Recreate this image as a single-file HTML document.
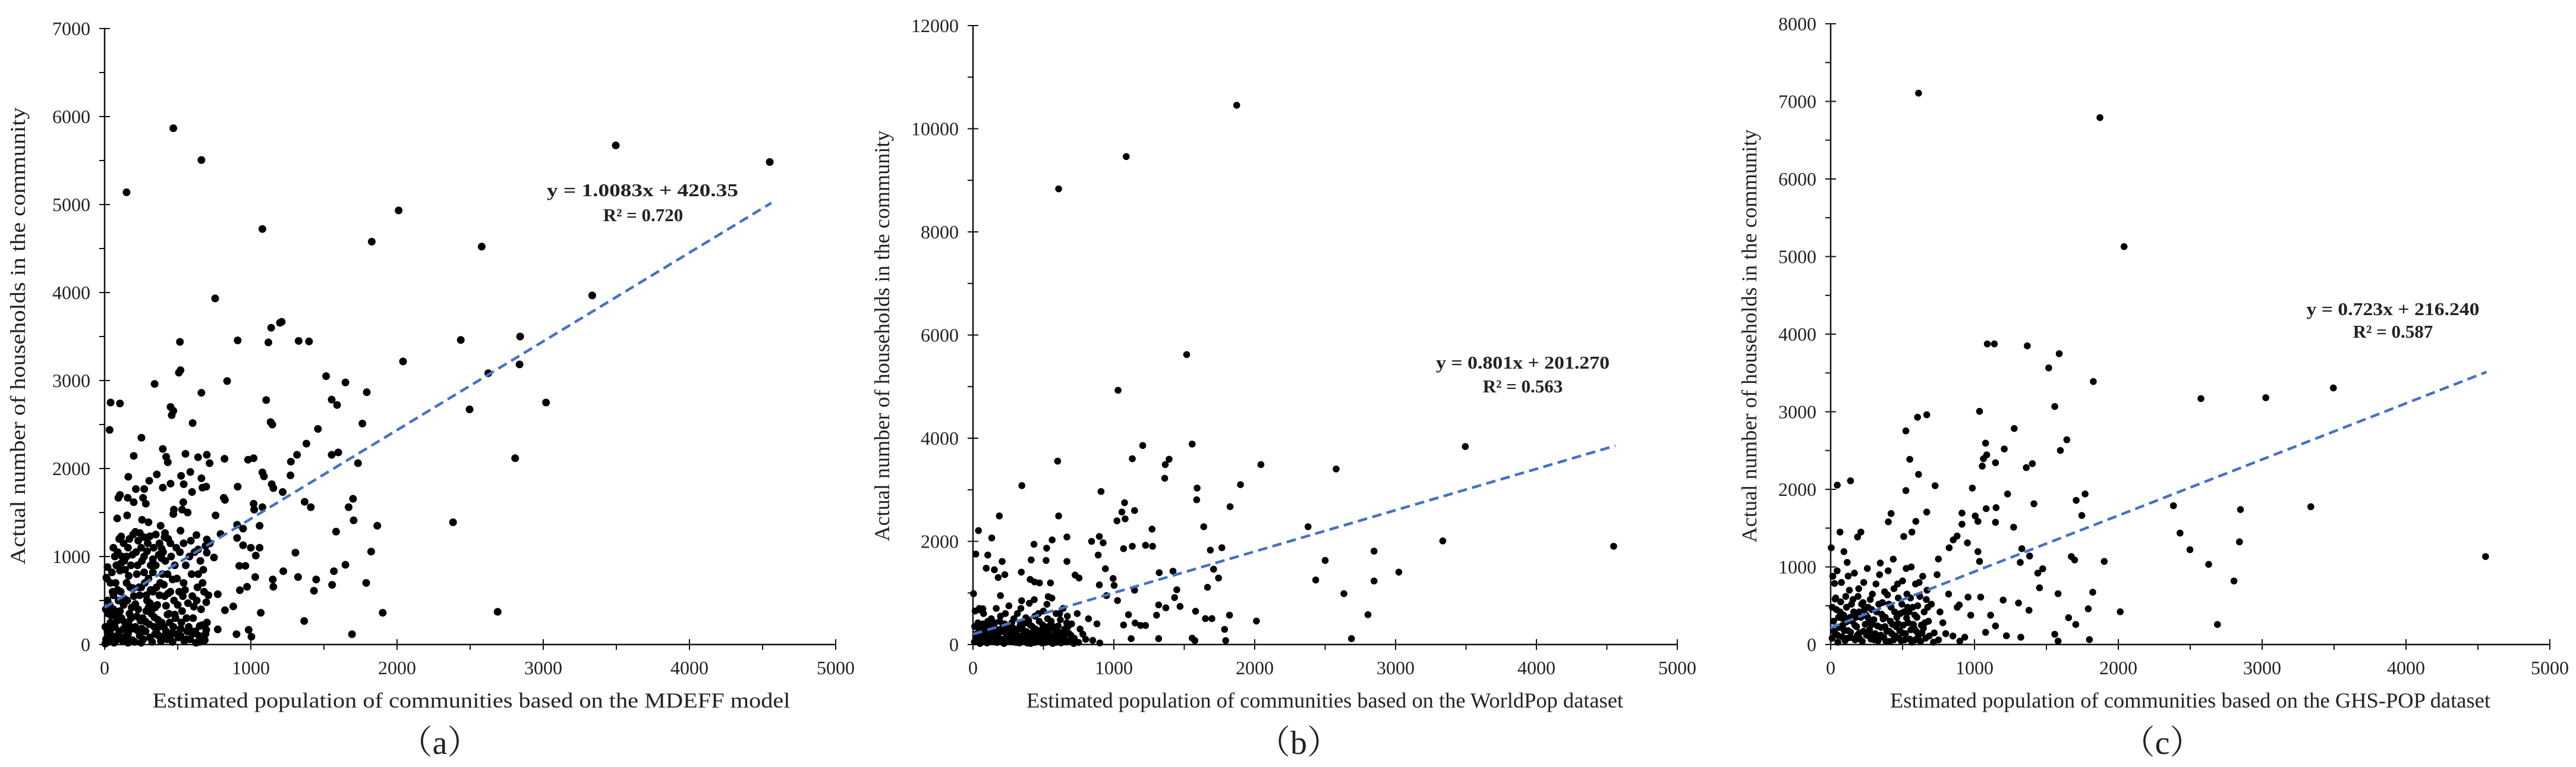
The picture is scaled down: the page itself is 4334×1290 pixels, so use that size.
<!DOCTYPE html>
<html><head><meta charset="utf-8"><style>
html,body{margin:0;padding:0;background:#fff;}
svg{display:block;}
text{font-family:"Liberation Serif","Noto Serif CJK SC",serif;fill:#222;}
</style></head><body>
<svg id="fig" width="4334" height="1290" viewBox="0 0 4334 1290" xmlns="http://www.w3.org/2000/svg"></svg>
<script>
// ---- Panel (a) data ----
const aXTicks = [0,1000,2000,3000,4000,5000];
const aYTicks = [0,1000,2000,3000,4000,5000,6000,7000];
const aFit = [1.0083, 420.35];
const aPoints = [[470,5867],[662,5506],[150,5139],[3496,5672],[4549,5483],[2011,4933],[1079,4722],[1827,4578],[2579,4522],[756,3933],[3335,3967],[910,3456],[515,3439],[1120,3433],[1139,3600],[1199,3656],[1211,3667],[1327,3450],[1398,3444],[2436,3461],[2842,3500],[2041,3217],[2838,3183],[2624,3083],[508,3089],[519,3117],[342,2961],[838,2994],[1515,3050],[1647,2978],[1793,2867],[662,2861],[1105,2778],[1553,2783],[1590,2722],[3019,2750],[41,2750],[105,2739],[451,2700],[470,2656],[459,2606],[2496,2672],[602,2517],[1135,2528],[1147,2500],[1763,2511],[34,2439],[1459,2450],[252,2350],[1380,2283],[398,2222],[2808,2117],[1553,2156],[1598,2183],[1316,2156],[421,2133],[432,2072],[199,2144],[553,2167],[639,2128],[699,2156],[718,2061],[820,2111],[981,2100],[1019,2117],[1274,2078],[1733,2061],[1079,1956],[1090,1911],[1271,1922],[162,1906],[305,1861],[357,1933],[523,1917],[586,1961],[662,1889],[1143,1822],[1154,1778],[541,1822],[451,1828],[398,1783],[669,1783],[695,1794],[910,1794],[598,1733],[1218,1733],[105,1700],[94,1667],[271,1767],[214,1767],[158,1667],[263,1667],[815,1667],[823,1644],[1699,1656],[199,1617],[282,1600],[538,1617],[1368,1622],[1019,1600],[1079,1561],[1410,1561],[1669,1561],[1023,1533],[474,1533],[530,1533],[568,1500],[470,1483],[154,1467],[86,1433],[256,1417],[759,1467],[1703,1411],[300,1389],[2383,1389],[906,1361],[1865,1350],[1060,1350],[383,1350],[519,1294],[947,1317],[1583,1283],[241,1267],[413,1267],[628,1244],[113,1228],[793,1256],[906,1211],[699,1194],[947,1128],[1000,1100],[1060,1100],[699,1044],[1305,1044],[1823,1056],[748,989],[1034,1011],[1647,906],[921,894],[963,894],[1568,833],[1222,833],[1030,767],[1323,767],[1150,739],[1447,739],[1789,700],[1154,656],[1556,678],[1432,611],[774,572],[925,617],[974,656],[823,389],[880,433],[1365,267],[1068,361],[1902,361],[2688,372],[1692,117],[902,117],[1004,89],[985,167],[774,172],[695,167],
[10,60],[20,150],[30,30],[40,250],[50,100],[60,400],[70,200],[80,50],[90,320],[100,150],[110,600],[120,80],[130,450],[140,250],[150,700],[160,120],[170,350],[180,900],[190,50],[200,550],[210,200],[220,800],[230,400],[240,100],[250,650],[260,300],[270,1000],[280,150],[290,500],[300,750],[310,80],[320,350],[330,600],[340,200],[350,900],[360,450],[370,100],[380,700],[390,250],[400,1050],[410,550],[420,150],[430,800],[440,350],[450,600],[470,200],[480,900],[500,450],[520,100],[540,700],[560,300],[580,1000],[600,550],[620,150],[640,800],[660,400],[680,600],[700,250],[720,1150],[60,1100],[80,900],[100,1200],[120,1000],[140,850],[160,1100],[40,700],[20,500],[15,750],[35,450],[55,600],[75,700],[95,500],[115,300],[135,950],[155,500],[175,650],[195,1250],[215,1050],[235,650],[255,950],[275,700],[295,1150],[315,900],[335,1100],[355,650],[375,1150],[395,800],[415,950],[435,1200],[455,1000],[475,500],[495,750],[515,1050],[535,550],[555,900],[575,200],[595,800],[615,1050],[635,650],[655,950],[675,850],[695,480],[25,350],[45,180],[65,20],[85,270],[105,380],[125,40],[145,160],[165,230],[185,420],[205,30],[225,160],[245,270],[265,60],[285,380],[305,230],[325,30],[345,120],[365,280],[385,40],[405,200],[425,60],[445,250],[465,30],[485,300],[505,80],[525,250],[545,40],[565,150],[585,60],[605,300],[625,20],[645,100],[665,220],[685,50],[5,10],[5,200],[8,400],[12,760],
[30,120],[45,330],[60,560],[75,90],[90,620],[105,840],[120,280],[135,520],[150,60],[165,780],[180,300],[195,640],[210,460],[225,900],[240,560],[255,180],[270,820],[285,560],[300,420],[315,620],[330,820],[345,420],[360,120],[375,560],[390,980],[405,680],[420,440],[435,580],[450,100],[465,740],[480,340],[495,120],[510,600],[530,380],[550,620],[570,470],[590,150],[610,430],[630,500],[650,210],[670,700],[690,120],[710,560],[20,880],[50,820],[70,1000],[90,1050],[110,920],[130,1150],[150,1000],[170,1200],[190,1020],[210,1280],[230,1180],[250,1100],[270,1220],[290,1060],[310,1230],[330,970],[350,1250],[370,1020],[390,1090],[410,1220],[450,1150],[490,1100],[540,1150],[590,1180],[640,1080],[690,1120],[40,40],[70,330],[100,80],[130,180],[160,20],[190,180],[220,320],[250,20],[280,260],[310,470],[340,310],[370,200],[400,90],[430,340],[460,130],[520,180],[560,60],[600,120],[650,30]];

// ---- Panel (b) data ----
const bXTicks = [0,1000,2000,3000,4000,5000];
const bYTicks = [0,2000,4000,6000,8000,10000,12000];
const bFit = [0.801, 201.27];
const bPoints = [[1872,10455],[1088,9460],[608,8834],[1517,5621],[1030,4929],[3495,3839],[1556,3886],[1205,3858],[601,3555],[1131,3602],[1392,3592],[1365,3488],[2044,3488],[2578,3403],[1361,3223],[347,3081],[1899,3100],[1591,3033],[909,2967],[1588,2806],[1825,2673],[1076,2749],[1147,2597],[1057,2569],[1080,2436],[1022,2398],[608,2493],[187,2493],[1271,2237],[1638,2284],[2379,2284],[39,2209],[20,1754],[105,1735],[133,2066],[667,2085],[562,2028],[433,1943],[842,2000],[924,1972],[897,2095],[3335,2009],[1225,1924],[1275,1905],[1131,1905],[4548,1905],[1767,1877],[1069,1858],[1685,1829],[2847,1810],[523,1867],[889,1735],[413,1640],[207,1611],[519,1630],[667,1611],[2500,1630],[940,1469],[94,1479],[152,1450],[343,1403],[725,1346],[3023,1403],[1708,1460],[1322,1393],[1420,1422],[226,1355],[753,1289],[1743,1289],[995,1280],[179,1299],[406,1261],[2433,1251],[2847,1232],[437,1213],[472,1194],[550,1194],[897,1156],[1665,1109],[1002,1147],[1447,1062],[1147,1052],[2633,986],[4,986],[948,948],[195,948],[534,929],[1026,853],[1431,910],[70,692],[47,673],[1318,768],[1369,711],[1470,739],[1580,645],[2804,578],[1821,569],[1303,569],[1104,578],[1650,502],[1696,502],[2012,455],[1069,379],[1151,417],[1190,370],[1225,370],[1786,294],[2687,114],[1318,114],[1556,123],[1575,76],[1794,76],[1123,114],
[10,50],[20,200],[30,100],[40,300],[50,20],[60,150],[70,400],[80,80],[90,250],[100,30],[110,350],[120,120],[130,500],[140,60],[150,200],[160,300],[170,40],[180,150],[190,450],[200,100],[210,250],[220,20],[230,600],[240,180],[250,80],[260,350],[270,130],[280,50],[290,500],[300,220],[310,100],[320,300],[330,30],[340,700],[350,150],[360,400],[370,60],[380,250],[390,120],[400,800],[410,20],[420,350],[430,180],[440,550],[450,80],[460,250],[470,450],[480,130],[490,30],[500,650],[510,300],[520,100],[530,500],[540,200],[550,50],[560,900],[570,350],[580,150],[590,600],[600,250],[610,80],[620,480],[630,180],[640,700],[650,300],[660,50],[670,550],[680,220],[700,400],[720,120],[740,600],[760,300],[780,200],[800,100],[820,500],[850,80],[880,400],[900,30],[15,650],[45,700],[75,600],[105,450],[135,250],[165,700],[195,550],[225,400],[255,750],[285,320],[315,600],[345,850],[375,520],[405,380],[435,870],[465,600],[495,380],[525,780],[555,450],[585,280],[615,600],[645,150],[675,350],[25,120],[55,250],[85,180],[115,60],[145,380],[175,250],[205,50],[235,320],[265,200],[295,90],[325,170],[355,280],[385,30],[415,220],[445,300],[475,60],[505,180],[535,350],[565,20],[595,120],[625,30],[655,200],[685,80],[715,20],[750,40],
[35,420],[65,320],[95,120],[125,220],[155,420],[185,80],[215,380],[245,260],[275,420],[305,40],[335,380],[365,230],[395,470],[425,90],[455,160],[485,280],[515,40],[545,300],[575,180],[605,360],[635,100],[665,420],[695,180],[12,350],[48,80],[78,240],[108,200],[138,110],[168,170],[198,300],[228,120],[258,250],[288,180],[318,40],[348,80],[378,160],[408,120],[438,40],[468,190],[498,100],[528,240],[558,130],[588,40],[618,230]];

// ---- Panel (c) data ----
const cXTicks = [0,1000,2000,3000,4000,5000];
const cYTicks = [0,1000,2000,3000,4000,5000,6000,7000,8000];
const cFit = [0.723, 216.24];
const cPoints = [[611,7106],[1872,6791],[2040,5128],[3495,3307],[1089,3874],[1138,3874],[1367,3849],[1589,3748],[1516,3565],[1826,3389],[2574,3169],[3025,3181],[1558,3068],[1035,3005],[668,2961],[604,2929],[1276,2784],[523,2753],[1642,2639],[1077,2595],[1207,2520],[1597,2501],[1085,2444],[1062,2394],[1146,2343],[1402,2331],[1360,2280],[550,2387],[1054,2299],[611,2192],[138,2110],[46,2054],[726,2047],[985,2016],[523,1984],[1230,1940],[1769,1940],[1707,1858],[2383,1789],[3338,1776],[1413,1814],[1150,1764],[1081,1751],[2849,1739],[668,1707],[420,1688],[913,1694],[1746,1663],[1005,1657],[592,1587],[1024,1587],[1146,1575],[401,1581],[913,1550],[1272,1512],[65,1449],[210,1449],[565,1449],[2429,1436],[508,1392],[879,1398],[187,1386],[852,1348],[2842,1323],[951,1310],[4,1247],[824,1247],[1329,1235],[2498,1222],[1024,1197],[92,1197],[1383,1140],[1673,1134],[4553,1134],[749,1102],[1696,1090],[1035,1071],[1902,1071],[1318,1058],[115,1058],[2628,1033],[1474,976],[1440,920],[122,882],[27,787],[2804,819],[1452,731],[31,586],[1199,573],[955,611],[1043,611],[1581,655],[1822,674],[1306,535],[894,510],[1379,441],[1791,460],[2013,422],[1654,346],[1112,378],[974,378],[1704,258],[2689,258],[1146,239],[1222,113],[1322,94],[1077,157],[1558,132],[1581,44],[1799,63],[932,94],[898,44],
[10,80],[20,300],[30,150],[40,450],[50,30],[60,220],[70,550],[80,100],[90,380],[100,50],[110,480],[120,180],[130,700],[140,90],[150,300],[160,420],[170,60],[180,230],[190,620],[200,150],[210,350],[220,40],[230,800],[240,260],[250,120],[260,480],[270,190],[280,70],[290,650],[300,320],[310,140],[320,420],[330,50],[340,900],[350,220],[360,540],[370,90],[380,350],[390,170],[400,950],[410,40],[420,480],[430,260],[440,720],[450,110],[460,350],[470,600],[480,180],[490,50],[500,820],[510,420],[520,140],[530,650],[540,280],[550,70],[560,1000],[570,480],[580,210],[590,780],[600,350],[610,110],[620,620],[630,250],[640,880],[650,420],[660,80],[670,700],[680,300],[700,520],[720,150],[740,900],[760,420],[780,280],[800,140],[820,650],[850,110],[880,480],[15,880],[45,950],[75,800],[105,620],[135,350],[165,920],[195,720],[225,540],[255,980],[285,450],[315,780],[345,1050],[375,680],[405,520],[435,1100],[465,780],[495,520],[525,980],[555,600],[585,380],[615,800],[645,210],[675,480],[25,170],[55,350],[85,250],[115,80],[145,520],[175,350],[205,70],[235,450],[265,280],[295,130],[325,240],[355,390],[385,40],[415,300],[445,420],[475,80],[505,250],[535,480],[565,30],[595,170],[625,40],[655,280],[685,110],[715,30],[750,60],
[35,600],[65,420],[95,180],[125,320],[155,580],[185,120],[215,520],[245,380],[275,580],[305,60],[335,520],[365,330],[395,640],[425,140],[455,230],[485,400],[515,60],[545,420],[575,260],[605,500],[635,150],[665,580],[12,480],[48,120],[78,340],[108,290],[138,160],[168,250],[198,420],[228,170],[258,350],[288,260],[318,60],[348,120],[378,230],[408,170],[438,60],[468,270],[498,150],[528,340],[558,190],[588,60]];

const NS = "http://www.w3.org/2000/svg";
const svg = document.getElementById('fig');
function mk(tag, attrs, parent){
  const e = document.createElementNS(NS, tag);
  for (const k in attrs) e.setAttribute(k, attrs[k]);
  (parent||svg).appendChild(e);
  return e;
}

const panels = [
  {id:'a', pts:aPoints, xt:aXTicks, yt:aYTicks, fit:aFit, x0:176, x1:1406, yb:1084, yt0:48, r:6.5,
   ytitle:{x:30, len:769}, xtitle:{cx:793, len:1073}, tag:{cx:740, text:'（a）'},
   eq:{cx:1081, y:330, text:'y = 1.0083x + 420.35', len:322}, r2:{cx:1082, y:372, text:'R² = 0.720'},
   xname:'Estimated population of communities based on the MDEFF model'},
  {id:'b', pts:bPoints, xt:bXTicks, yt:bYTicks, fit:bFit, x0:1637, x1:2822, yb:1084, yt0:43, r:5.8,
   ytitle:{x:1484, len:691}, xtitle:{cx:2229, len:1004}, tag:{cx:2185, text:'（b）'},
   eq:{cx:2562, y:620, text:'y = 0.801x + 201.270', len:292}, r2:{cx:2562, y:660, text:'R² = 0.563'},
   xname:'Estimated population of communities based on the WorldPop dataset'},
  {id:'c', pts:cPoints, xt:cXTicks, yt:cYTicks, fit:cFit, x0:3080, x1:4290, yb:1084, yt0:40, r:5.8,
   ytitle:{x:2943, len:695}, xtitle:{cx:3685, len:1010}, tag:{cx:3638, text:'（c）'},
   eq:{cx:4026, y:530, text:'y = 0.723x + 216.240', len:291}, r2:{cx:4026, y:568, text:'R² = 0.587'},
   xname:'Estimated population of communities based on the GHS-POP dataset'}
];

panels.forEach(p => {
  const g = mk('g', {});
  
  
  const xMax = p.xt[p.xt.length-1], yMax = p.yt[p.yt.length-1];
  const sx = v => p.x0 + (p.x1 - p.x0) * v / xMax;
  const sy = v => p.yb - (p.yb - p.yt0) * v / yMax;

  const yAxis = mk('line', {x1:p.x0, y1:p.yt0, x2:p.x0, y2:p.yb, stroke:'#111', 'stroke-width':2.5}, g);
  
  
  const xAxis = mk('line', {x1:p.x0, y1:p.yb, x2:p.x1, y2:p.yb, stroke:'#111', 'stroke-width':2.5}, g);
  
  

  const yStep = p.yt[1] - p.yt[0];
  p.yt.forEach((v, i) => {
    const y = sy(v);
    mk('line', {x1:p.x0-9, y1:y, x2:p.x0+9, y2:y, stroke:'#111', 'stroke-width':2}, g);
    const t = mk('text', {x:p.x0-24, y:y+11, 'text-anchor':'end', 'font-size':32}, g);
    t.textContent = v;
    
    
    if (i < p.yt.length-1) {
      const ym = sy(v + yStep/2);
      mk('line', {x1:p.x0-9, y1:ym, x2:p.x0, y2:ym, stroke:'#111', 'stroke-width':2}, g);
    }
  });
  const xStep = p.xt[1] - p.xt[0];
  p.xt.forEach((v, i) => {
    const x = sx(v);
    mk('line', {x1:x, y1:p.yb-9, x2:x, y2:p.yb+9, stroke:'#111', 'stroke-width':2}, g);
    const t = mk('text', {x:x, y:p.yb+50, 'text-anchor':'middle', 'font-size':32}, g);
    t.textContent = v;
    
    
    if (i < p.xt.length-1) {
      const xm = sx(v + xStep/2);
      mk('line', {x1:xm, y1:p.yb, x2:xm, y2:p.yb+9, stroke:'#111', 'stroke-width':2}, g);
    }
  });

  p.pts.forEach(pt => {
    const c = mk('circle', {cx:sx(pt[0]), cy:sy(pt[1]), r:p.r, fill:'#000'}, g);
    
    
  });

  const xEnd = 4560;
  const tl = mk('line', {x1:sx(0), y1:sy(p.fit[1]), x2:sx(xEnd), y2:sy(p.fit[0]*xEnd + p.fit[1]),
    stroke:'#4472C4', 'stroke-width':4.5, 'stroke-dasharray':'16 9'}, g);
  
  

  const eq = mk('text', {x:p.eq.cx, y:p.eq.y, 'text-anchor':'middle', 'font-size':31, 'font-weight':'bold',
    textLength:p.eq.len, lengthAdjust:'spacingAndGlyphs'}, g);
  eq.textContent = p.eq.text;
  
  
  const r2 = mk('text', {x:p.r2.cx, y:p.r2.y, 'text-anchor':'middle', 'font-size':31, 'font-weight':'bold'}, g);
  r2.textContent = p.r2.text;
  
  

  const yt = mk('text', {x:0, y:0, 'text-anchor':'middle', 'font-size':36,
    textLength:p.ytitle.len, lengthAdjust:'spacingAndGlyphs',
    transform:'translate(' + (p.ytitle.x + 12) + ',565) rotate(-90)'}, g);
  yt.textContent = 'Actual number of households in the community';
  
  
  const xt = mk('text', {x:p.xtitle.cx, y:1190, 'text-anchor':'middle', 'font-size':36,
    textLength:p.xtitle.len, lengthAdjust:'spacingAndGlyphs'}, g);
  xt.textContent = p.xname;
  
  
  const tg = mk('text', {x:p.tag.cx, y:1268, 'text-anchor':'middle', 'font-size':56}, g);
  tg.textContent = p.tag.text;
  
  
});
</script>
</body></html>
